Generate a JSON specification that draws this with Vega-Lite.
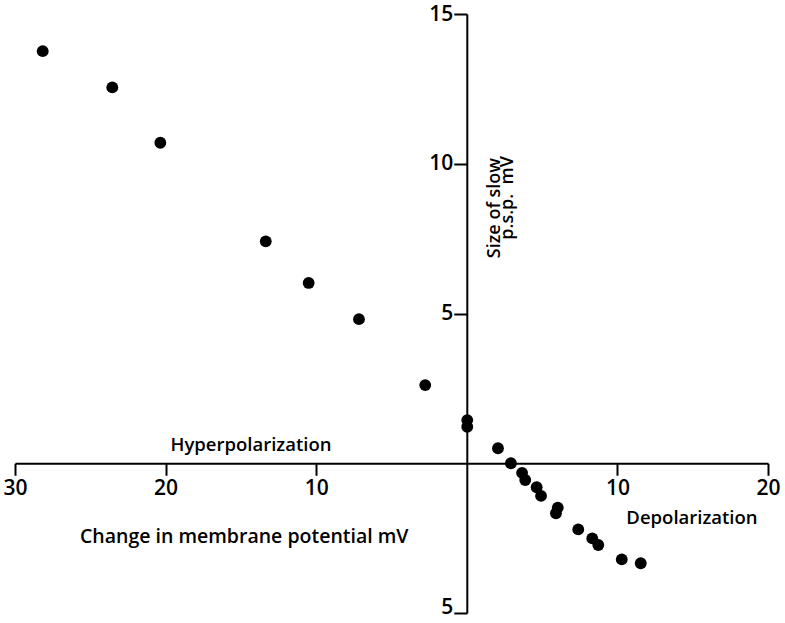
{
  "$schema": "https://vega.github.io/schema/vega-lite/v6.json",
  "width": 753,
  "height": 599,
  "autosize": {"type": "none"},
  "padding": {"left": 15, "top": 14, "right": 17, "bottom": 10},
  "background": "white",
  "config": {"view": {"stroke": null}, "font": "Open Sans"},
  "datasets": {
    "points": [
      {"x": -28.16, "y": 13.76},
      {"x": -23.54, "y": 12.55},
      {"x": -20.35, "y": 10.70},
      {"x": -13.35, "y": 7.41},
      {"x": -10.50, "y": 6.02},
      {"x": -7.16, "y": 4.81},
      {"x": -2.76, "y": 2.61},
      {"x": 0.03, "y": 1.44},
      {"x": 0.03, "y": 1.22},
      {"x": 2.07, "y": 0.50},
      {"x": 2.93, "y": 0.0},
      {"x": 3.67, "y": -0.32},
      {"x": 3.88, "y": -0.56},
      {"x": 4.64, "y": -0.80},
      {"x": 4.93, "y": -1.09},
      {"x": 6.04, "y": -1.48},
      {"x": 5.92, "y": -1.67},
      {"x": 7.40, "y": -2.21},
      {"x": 8.33, "y": -2.51},
      {"x": 8.73, "y": -2.73},
      {"x": 10.29, "y": -3.21},
      {"x": 11.55, "y": -3.34}
    ],
    "hlabels": [
      {"x": -14.33, "y": 0.41, "label": "Hyperpolarization", "size": 18.5},
      {"x": -14.78, "y": -2.66, "label": "Change in membrane potential mV", "size": 19.5},
      {"x": 14.95, "y": -2.03, "label": "Depolarization", "size": 18.5}
    ],
    "vlabels": [
      {"x": 2.2, "y": 8.52, "label": "Size of slow"},
      {"x": 3.1, "y": 8.86, "label": "p.s.p.\u00a0\u00a0mV"}
    ]
  },
  "layer": [
    {
      "data": {"name": "points"},
      "mark": {"type": "circle", "color": "black", "opacity": 1, "size": 140},
      "encoding": {
        "x": {
          "field": "x", "type": "quantitative",
          "scale": {"domain": [-30, 20], "nice": false, "zero": false},
          "axis": {
            "title": null, "grid": false,
            "values": [-30, -20, -10, 10, 20],
            "labelExpr": "format(abs(datum.value), 'd')",
            "offset": -149.75,
            "domainColor": "black", "domainWidth": 2,
            "tickColor": "black", "tickWidth": 2, "tickSize": 12,
            "labelFontSize": 21, "labelColor": "black", "labelPadding": 2,
            "labelFlush": false, "labelFont": "Open Sans", "labelFontWeight": 600
          }
        },
        "y": {
          "field": "y", "type": "quantitative",
          "scale": {"domain": [-5, 15], "nice": false, "zero": false},
          "axis": {
            "title": null, "grid": false,
            "values": [-5, 5, 10, 15],
            "labelExpr": "format(abs(datum.value), 'd')",
            "offset": -451.8,
            "domainColor": "black", "domainWidth": 2,
            "tickColor": "black", "tickWidth": 2, "tickSize": 13,
            "labelFontSize": 21, "labelColor": "black", "labelPadding": 1,
            "labelBaseline": {"condition": {"test": "datum.value == -5", "value": "alphabetic"}, "value": "middle"},
            "labelFont": "Open Sans", "labelFontWeight": 600
          }
        }
      }
    },
    {
      "data": {"name": "hlabels"},
      "mark": {"type": "text", "baseline": "alphabetic", "align": "center", "color": "black", "font": "Open Sans", "fontWeight": 600},
      "encoding": {
        "x": {"field": "x", "type": "quantitative"},
        "y": {"field": "y", "type": "quantitative"},
        "text": {"field": "label"},
        "size": {"field": "size", "type": "quantitative", "scale": null}
      }
    },
    {
      "data": {"name": "vlabels"},
      "mark": {"type": "text", "fontSize": 18, "baseline": "alphabetic", "align": "center", "angle": 270, "color": "black", "font": "Open Sans", "fontWeight": 600},
      "encoding": {
        "x": {"field": "x", "type": "quantitative"},
        "y": {"field": "y", "type": "quantitative"},
        "text": {"field": "label"}
      }
    }
  ]
}
